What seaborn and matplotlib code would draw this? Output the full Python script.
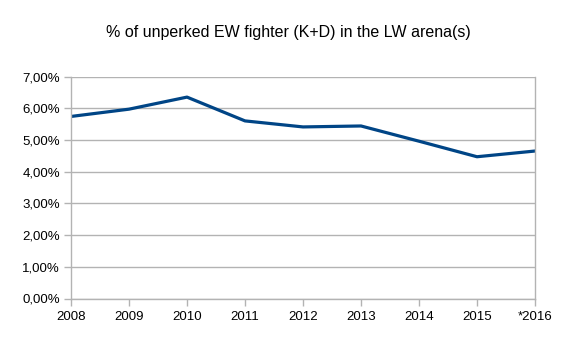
import matplotlib
matplotlib.use("Agg")
import matplotlib.pyplot as plt
import seaborn as sns
import pandas as pd
from matplotlib.ticker import FuncFormatter, MultipleLocator

years = ["2008", "2009", "2010", "2011", "2012", "2013", "2014", "2015", "*2016"]
share = [5.74, 5.97, 6.35, 5.60, 5.41, 5.44, 4.96, 4.47, 4.65]

df = pd.DataFrame({"pos": range(len(years)), "share": share})

sns.set_theme(style="white")
plt.rcParams['font.family'] = ['Liberation Sans', 'DejaVu Sans']

fig = plt.figure(figsize=(5.62, 3.39), dpi=100)
ax = fig.add_axes([71/562, 1 - 298.5/339, 464/562, (298.5 - 76.5)/339])

sns.lineplot(data=df, x="pos", y="share", ax=ax, color="#004586", linewidth=2.3)

ax.set_xlim(0, len(years) - 1)
ax.set_ylim(0, 7)
ax.set_xticks(range(len(years)))
ax.set_xticklabels(years)
ax.yaxis.set_major_locator(MultipleLocator(1))
ax.yaxis.set_major_formatter(FuncFormatter(lambda v, p: f"{v:.2f}%".replace(".", ",")))
ax.grid(axis="y", color="#b3b3b3", linewidth=1)
ax.set_axisbelow(True)
ax.set_xlabel("")
ax.set_ylabel("")
ax.spines["top"].set_visible(False)
for s in ["left", "right", "bottom"]:
    ax.spines[s].set_color("#b3b3b3")
    ax.spines[s].set_linewidth(1)
ax.tick_params(axis="both", which="major", length=5, width=1, color="#b3b3b3",
               labelsize=9.5, labelcolor="black", bottom=True, left=True)
ax.tick_params(axis="x", pad=4)
ax.tick_params(axis="y", pad=3)

fig.text(288/562, 1 - 33/339, "% of unperked EW fighter (K+D) in the LW arena(s)",
         ha="center", va="center", fontsize=11.5, color="black")

fig.savefig("out.png", dpi=100)
